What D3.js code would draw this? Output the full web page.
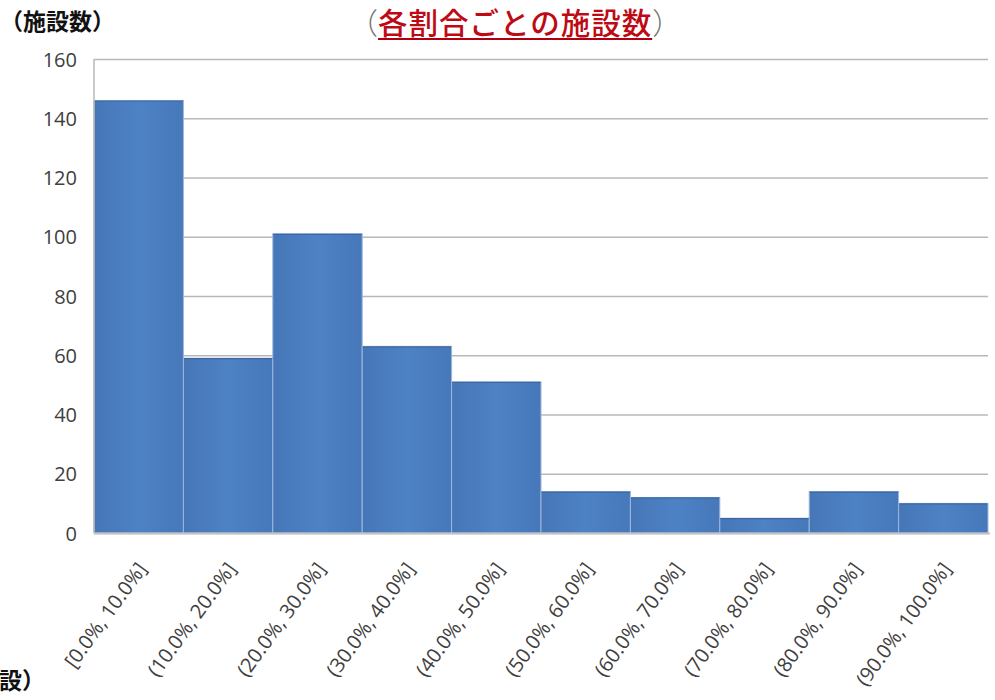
<!DOCTYPE html>
<html>
<head>
<meta charset="utf-8">
<script src="https://cdn.jsdelivr.net/npm/d3@7"></script>
<style>
  html, body { margin: 0; padding: 0; background: #fff; }
  svg { display: block; }
</style>
</head>
<body>
<div id="chart"></div>
<script>
// Histogram: number of facilities per ratio band
const categories = [
  "[0.0%, 10.0%]", "(10.0%, 20.0%]", "(20.0%, 30.0%]", "(30.0%, 40.0%]",
  "(40.0%, 50.0%]", "(50.0%, 60.0%]", "(60.0%, 70.0%]", "(70.0%, 80.0%]",
  "(80.0%, 90.0%]", "(90.0%, 100.0%]"
];
const counts = [146, 59, 101, 63, 51, 14, 12, 5, 14, 10];
const yTicks = [0, 20, 40, 60, 80, 100, 120, 140, 160];

const W = 995, H = 700;
const plot = { left: 94, right: 988, top: 59, bottom: 533 };

const svg = d3.select("#chart").append("svg")
  .attr("width", W).attr("height", H);

const x = d3.scaleBand().domain(categories).range([plot.left, plot.right]).padding(0);
const y = d3.scaleLinear().domain([0, 160]).range([plot.bottom, plot.top]);

const latin = "'Open Sans', 'Noto Sans', sans-serif";
const cjk = "'Noto Sans CJK JP', 'Noto Sans', sans-serif";

// gradient for the bars
const defs = svg.append("defs");
const grad = defs.append("linearGradient").attr("id", "barFill")
  .attr("x1", "0").attr("x2", "1").attr("y1", "0").attr("y2", "0");
grad.append("stop").attr("offset", "0%").attr("stop-color", "#4676b8");
grad.append("stop").attr("offset", "50%").attr("stop-color", "#4d82c4");
grad.append("stop").attr("offset", "100%").attr("stop-color", "#4678ba");

// horizontal gridlines
const grid = svg.append("g")
  .attr("transform", `translate(${plot.left},0)`)
  .call(d3.axisLeft(y).tickValues(yTicks).tickSize(-(plot.right - plot.left)).tickFormat(""));
grid.select(".domain").remove();
grid.selectAll("line").attr("stroke", "#b8b8b8").attr("stroke-width", 1.5);

// bars
svg.append("g").selectAll("rect")
  .data(counts)
  .join("rect")
  .attr("x", (d, i) => x(categories[i]))
  .attr("y", d => y(d))
  .attr("width", x.bandwidth())
  .attr("height", d => y(0) - y(d))
  .attr("fill", "url(#barFill)")
  .attr("stroke", "#9db7dc")
  .attr("stroke-width", 1);

// darker top edge of each bar
svg.append("g").selectAll("line")
  .data(counts)
  .join("line")
  .attr("x1", (d, i) => x(categories[i]) + 0.5)
  .attr("x2", (d, i) => x(categories[i]) + x.bandwidth() - 0.5)
  .attr("y1", d => y(d) + 0.5)
  .attr("y2", d => y(d) + 0.5)
  .attr("stroke", "#3d67a2")
  .attr("stroke-width", 1.2);

// axis lines
svg.append("line")
  .attr("x1", plot.left).attr("x2", plot.left)
  .attr("y1", y(160)).attr("y2", y(0))
  .attr("stroke", "#b8b8b8").attr("stroke-width", 1.5);
svg.append("line")
  .attr("x1", plot.left).attr("x2", plot.right + 2)
  .attr("y1", y(0) + 0.5).attr("y2", y(0) + 0.5)
  .attr("stroke", "#c4c4c4").attr("stroke-width", 2);

// y tick labels
const yAxis = svg.append("g")
  .attr("transform", `translate(${plot.left},0)`)
  .call(d3.axisLeft(y).tickValues(yTicks).tickSize(0).tickPadding(17));
yAxis.select(".domain").remove();
yAxis.selectAll("text")
  .attr("font-family", latin).attr("font-size", 20).attr("fill", "#404040")
  .attr("dy", "0.35em");

// x category labels, rotated
svg.append("g").selectAll("text")
  .data(categories)
  .join("text")
  .attr("transform", d => `translate(${x(d) + x.bandwidth() / 2 + 9},${plot.bottom + 36}) rotate(-54)`)
  .attr("text-anchor", "end")
  .attr("font-family", latin).attr("font-size", 20).attr("fill", "#404040")
  .text(d => d);

// axis caption, top left
svg.append("text")
  .attr("x", 0).attr("y", 30)
  .attr("font-family", cjk).attr("font-size", 23).attr("font-weight", 700)
  .attr("fill", "#111")
  .text("（施設数）");

// caption fragment, bottom left
svg.append("text")
  .attr("x", -1).attr("y", 689)
  .attr("font-family", cjk).attr("font-size", 23).attr("font-weight", 700)
  .attr("fill", "#111")
  .text("設）");

// title
const titleX = 378, titleY = 34, titleSize = 29.5;
const title = svg.append("text")
  .attr("x", titleX).attr("y", titleY)
  .attr("font-family", cjk).attr("font-size", titleSize).attr("font-weight", 500)
  .attr("letter-spacing", 1)
  .attr("fill", "#bd0a14")
  .text("各割合ごとの施設数");
const tw = title.node().getComputedTextLength();
svg.append("line")
  .attr("x1", titleX).attr("x2", titleX + tw)
  .attr("y1", titleY + 5).attr("y2", titleY + 5)
  .attr("stroke", "#b00010").attr("stroke-width", 2);
svg.append("text")
  .attr("x", titleX).attr("y", titleY)
  .attr("text-anchor", "end")
  .attr("font-family", cjk).attr("font-size", titleSize).attr("font-weight", 300)
  .attr("fill", "#777")
  .text("（");
svg.append("text")
  .attr("x", titleX + tw).attr("y", titleY)
  .attr("font-family", cjk).attr("font-size", titleSize).attr("font-weight", 300)
  .attr("fill", "#777")
  .text("）");
</script>
</body>
</html>
